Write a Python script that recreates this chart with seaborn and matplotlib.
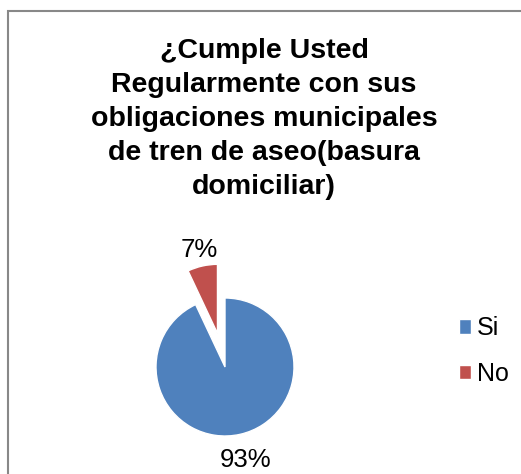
import matplotlib
matplotlib.use("Agg")
import numpy as np
import matplotlib.pyplot as plt
import matplotlib.patches as mpatches
import seaborn as sns

labels = ["Si", "No"]
values = [93, 7]
colors = ["#4F81BD", "#C0504D"]
explode = [0, 0.5]
title = "¿Cumple Usted\nRegularmente con sus\nobligaciones municipales\nde tren de aseo(basura\ndomiciliar)"

sns.set_theme(style="white")
plt.rcParams['font.family'] = ['Liberation Sans', 'DejaVu Sans']
plt.rcParams['text.color'] = 'black'

W, H = 521, 474
fig = plt.figure(figsize=(W / 100, H / 100), dpi=100)

# chart border (only left/top visible)
border = mpatches.Rectangle((8 / W, -0.1), 1.2, (H - 11) / H + 0.1,
                            transform=fig.transFigure, fill=False,
                            edgecolor="#888888", linewidth=1.5)
fig.patches.append(border)

# pie axes: radius 69 px, center (225, 367 from top)
R = 69
L = 1.6
S = 2 * L * R
cx, cy = 225, H - 367
ax = fig.add_axes([(cx - S / 2) / W, (cy - S / 2) / H, S / W, S / H])
wedges, texts, autotexts = ax.pie(values, colors=colors, explode=explode,
                                  startangle=90, counterclock=False,
                                  autopct=lambda p: f"{p:.0f}%",
                                  pctdistance=1.38, radius=1,
                                  textprops=dict(fontsize=18.5, color="black"))
# place the small slice's label a little closer to its wedge
label_dist = [1.38, 1.24]
for w, t, d in zip(wedges, autotexts, label_dist):
    ang = np.deg2rad((w.theta1 + w.theta2) / 2)
    c = w.center
    t.set_position((c[0] + d * np.cos(ang), c[1] + d * np.sin(ang)))

ax.set_xlim(-L, L)
ax.set_ylim(-L, L)
ax.set_aspect("equal")
ax.axis("off")

fig.text(264 / W, 1 - 38 / H, title, ha="center", va="top", color="black",
         fontsize=20.5, fontweight="bold", linespacing=1.4)

fig.legend(wedges, labels, loc="center left",
           bbox_to_anchor=(446 / W, 1 - 351 / H), frameon=False,
           fontsize=18, handlelength=0.5, handleheight=0.5,
           handletextpad=0.25, labelspacing=0.85, borderpad=0,
           labelcolor="black")

fig.savefig("out.png", dpi=100, facecolor="white")
